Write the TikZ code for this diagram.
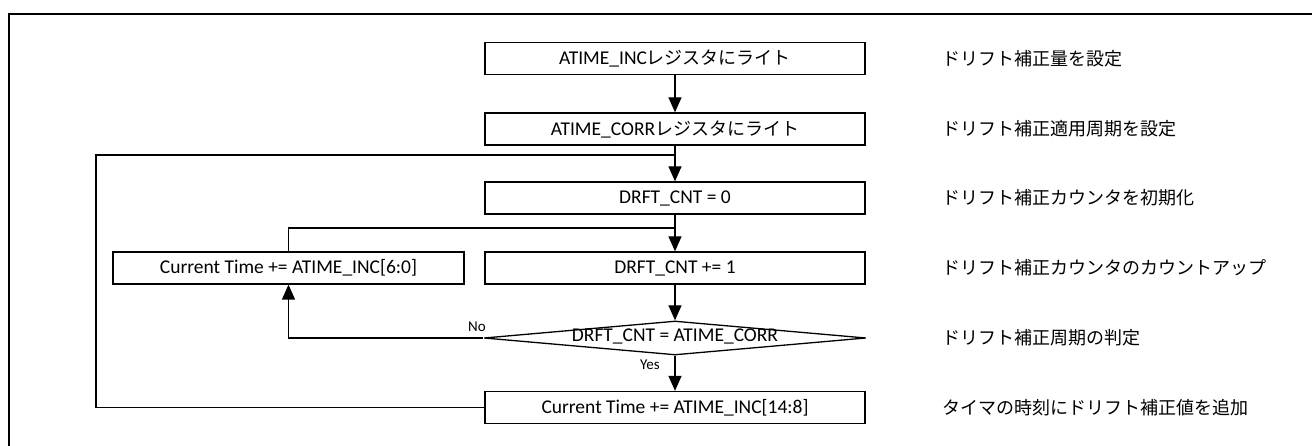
\documentclass[tikz,border=0pt]{standalone}
\usepackage{fontspec}
\setmainfont{Carlito}
\newfontfamily\jp{Noto Sans CJK JP}
\usetikzlibrary{arrows.meta,shapes.geometric}
\tikzset{
  stepbox/.style={draw,line width=1.3pt,minimum width=380pt,minimum height=32pt,inner sep=0pt,font=\fontsize{19.5}{22}\selectfont},
  dia/.style={draw,line width=1.3pt,diamond,minimum width=382pt,minimum height=34pt,inner sep=0pt},
  note/.style={anchor=west,inner sep=0pt,font=\jp\fontsize{18}{22}\selectfont},
  small/.style={inner sep=0pt,font=\fontsize{15}{17}\selectfont},
  arr/.style={line width=1.3pt,-{Triangle[width=13pt,length=15pt]}},
  ln/.style={line width=1.3pt}
}
\begin{document}
\begin{tikzpicture}[x=1pt,y=-1pt]
\useasboundingbox (0,0) rectangle (1312,446);
\draw[line width=2.2pt] (9,446) -- (9,14) -- (1312,14);
% boxes
\node[stepbox] (b1) at (675,58.5) {ATIME\_INC{\jp\fontsize{18}{22}\selectfont レジスタにライト}};
\node[stepbox] (b2) at (675,129) {ATIME\_CORR{\jp\fontsize{18}{22}\selectfont レジスタにライト}};
\node[stepbox] (b3) at (675,198) {DRFT\_CNT = 0};
\node[stepbox] (b4) at (675,268) {DRFT\_CNT += 1};
\node[stepbox,minimum width=351pt] (lb) at (288.5,268) {Current Time += ATIME\_INC[6:0]};
\node[dia] (d) at (675,338) {};
\node[inner sep=0pt,font=\fontsize{19.5}{22}\selectfont] (dt) at (675,336) {DRFT\_CNT = ATIME\_CORR};
\node[stepbox] (b5) at (675,407.5) {Current Time += ATIME\_INC[14:8]};
% notes
\node[note] (n1) at (942,58.5) {ドリフト補正量を設定};
\node[note] (n2) at (942,129) {ドリフト補正適用周期を設定};
\node[note] (n3) at (942,198) {ドリフト補正カウンタを初期化};
\node[note] (n4) at (942,268) {ドリフト補正カウンタのカウントアップ};
\node[note] (n5) at (942,338) {ドリフト補正周期の判定};
\node[note] (n6) at (942,407.5) {タイマの時刻にドリフト補正値を追加};
% junctions
\coordinate (j1) at (675,155);
\coordinate (j2) at (675,228);
\coordinate (c1) at (96,407.5);
\coordinate (c2) at (288.5,338);
% connectors
\draw[arr] (b1.south) -- (b2.north);
\draw[arr] (b2.south) -- (b3.north);
\draw[arr] (b3.south) -- (b4.north);
\draw[arr] (b4.south) -- (d.north);
\draw[arr] (d.south) -- (b5.north);
\draw[arr] (d.west) -- (c2) -- (lb.south);
\draw[ln] (lb.north) |- (j2);
\draw[ln] (b5.west) -- (c1) |- (j1);
\node[small] (no) at (477,327) {No};
\node[small] (yes) at (650,365) {Yes};
\end{tikzpicture}
\end{document}
